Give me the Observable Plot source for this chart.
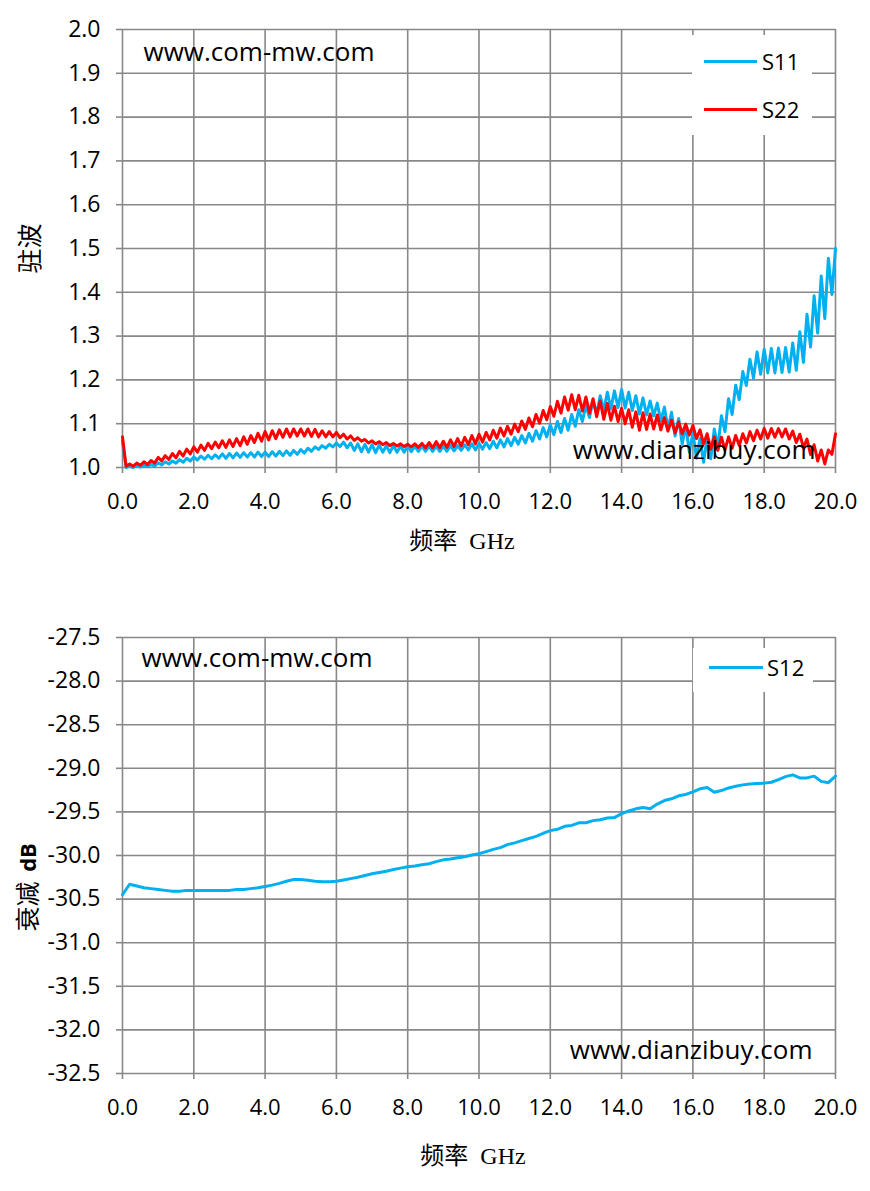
<!DOCTYPE html>
<html><head><meta charset="utf-8">
<script src="https://cdn.jsdelivr.net/npm/d3@7"></script>
<script src="https://cdn.jsdelivr.net/npm/@observablehq/plot@0.6"></script>
<style>
body{margin:0;background:#fff;}
#wrap{position:relative;width:870px;height:1191px;}
#wrap svg{display:block;}
.lg{position:absolute;background:#fff;font-family:'Open Sans',sans-serif;font-size:22px;color:#000;}
.lg .ln{position:absolute;height:3px;}
.lg .tx{position:absolute;line-height:30px;height:30px;}
</style></head>
<body><div id="wrap"></div>
<script>
// ---- data ----
const xTicks = [0, 2, 4, 6, 8, 10, 12, 14, 16, 18, 20];
const yTicksTop = [1.0, 1.1, 1.2, 1.3, 1.4, 1.5, 1.6, 1.7, 1.8, 1.9, 2.0];
const yTicksBottom = [-32.5, -32.0, -31.5, -31.0, -30.5, -30.0, -29.5, -29.0, -28.5, -28.0, -27.5];
const stepTop = 0.1;   // GHz between samples of S11 / S22
const stepBottom = 0.2; // GHz between samples of S12

const s11 = [1.060,1.000,1.003,1.000,1.004,1.001,1.005,1.002,1.007,1.003,
 1.011,1.006,1.013,1.008,1.015,1.010,1.018,1.012,1.021,1.015,
 1.024,1.017,1.026,1.019,1.028,1.020,1.029,1.021,1.031,1.021,
 1.032,1.022,1.033,1.023,1.034,1.024,1.034,1.024,1.035,1.025,
 1.035,1.025,1.036,1.026,1.037,1.027,1.038,1.028,1.039,1.030,
 1.041,1.033,1.044,1.037,1.047,1.041,1.050,1.044,1.053,1.047,
 1.056,1.048,1.058,1.045,1.056,1.039,1.054,1.036,1.053,1.035,
 1.052,1.034,1.051,1.035,1.050,1.034,1.050,1.035,1.049,1.035,
 1.050,1.036,1.049,1.037,1.049,1.037,1.049,1.037,1.049,1.037,
 1.049,1.037,1.050,1.038,1.050,1.039,1.052,1.040,1.054,1.040,
 1.055,1.042,1.057,1.043,1.060,1.045,1.063,1.047,1.066,1.050,
 1.069,1.053,1.073,1.056,1.078,1.060,1.084,1.065,1.091,1.070,
 1.097,1.075,1.105,1.080,1.112,1.085,1.121,1.094,1.132,1.105,
 1.142,1.114,1.154,1.122,1.164,1.130,1.172,1.134,1.175,1.137,
 1.178,1.136,1.172,1.130,1.164,1.122,1.159,1.120,1.152,1.118,
 1.147,1.106,1.138,1.088,1.126,1.072,1.112,1.053,1.096,1.035,
 1.080,1.021,1.066,1.012,1.070,1.020,1.088,1.046,1.118,1.082,
 1.157,1.121,1.188,1.155,1.219,1.187,1.247,1.204,1.264,1.213,
 1.270,1.216,1.272,1.216,1.273,1.217,1.274,1.218,1.284,1.222,
 1.310,1.240,1.350,1.275,1.392,1.307,1.437,1.340,1.478,1.395,
 1.500];

const s22 = [1.070,1.003,1.008,1.003,1.010,1.005,1.013,1.007,1.016,1.010,
 1.023,1.015,1.027,1.018,1.032,1.022,1.037,1.026,1.042,1.031,
 1.047,1.035,1.051,1.039,1.055,1.043,1.058,1.045,1.061,1.046,
 1.063,1.048,1.066,1.050,1.070,1.053,1.073,1.057,1.078,1.060,
 1.082,1.063,1.084,1.066,1.086,1.069,1.088,1.070,1.088,1.072,
 1.088,1.072,1.088,1.071,1.087,1.070,1.084,1.070,1.082,1.070,
 1.080,1.068,1.076,1.065,1.072,1.062,1.068,1.060,1.064,1.056,
 1.061,1.054,1.059,1.052,1.057,1.050,1.055,1.049,1.054,1.048,
 1.053,1.047,1.054,1.046,1.055,1.045,1.057,1.045,1.059,1.045,
 1.060,1.046,1.063,1.048,1.066,1.049,1.069,1.052,1.073,1.054,
 1.076,1.058,1.080,1.063,1.085,1.067,1.090,1.072,1.094,1.076,
 1.099,1.082,1.106,1.087,1.113,1.093,1.121,1.101,1.130,1.109,
 1.139,1.117,1.151,1.124,1.161,1.131,1.166,1.132,1.165,1.129,
 1.161,1.124,1.157,1.116,1.152,1.110,1.146,1.108,1.140,1.105,
 1.135,1.100,1.132,1.092,1.127,1.085,1.125,1.087,1.122,1.088,
 1.120,1.086,1.114,1.083,1.108,1.079,1.104,1.077,1.099,1.074,
 1.096,1.066,1.086,1.054,1.077,1.042,1.070,1.039,1.069,1.040,
 1.070,1.044,1.073,1.050,1.077,1.056,1.082,1.061,1.085,1.065,
 1.089,1.067,1.089,1.069,1.089,1.070,1.088,1.065,1.083,1.057,
 1.076,1.045,1.065,1.030,1.052,1.015,1.040,1.008,1.040,1.030,
 1.077];

const s12 = [-30.45,-30.33,-30.35,-30.37,-30.38,-30.39,-30.40,-30.41,-30.41,-30.40,
 -30.40,-30.40,-30.40,-30.40,-30.40,-30.40,-30.39,-30.39,-30.38,-30.37,
 -30.355,-30.34,-30.32,-30.295,-30.275,-30.275,-30.285,-30.295,-30.30,-30.30,
 -30.295,-30.28,-30.265,-30.25,-30.23,-30.21,-30.195,-30.18,-30.16,-30.145,
 -30.13,-30.12,-30.105,-30.095,-30.07,-30.05,-30.04,-30.025,-30.015,-29.995,
 -29.98,-29.955,-29.93,-29.91,-29.875,-29.855,-29.83,-29.805,-29.78,-29.745,
 -29.715,-29.70,-29.665,-29.655,-29.625,-29.625,-29.60,-29.59,-29.57,-29.565,
 -29.52,-29.49,-29.465,-29.45,-29.465,-29.41,-29.37,-29.35,-29.315,-29.30,
 -29.27,-29.235,-29.22,-29.275,-29.255,-29.225,-29.205,-29.19,-29.18,-29.175,
 -29.17,-29.16,-29.13,-29.095,-29.075,-29.11,-29.11,-29.09,-29.15,-29.165,
 -29.09];

// ---- build ----
const gridColor = "#888888";
const fmt = d => d.toFixed(1);
const rows = (arr, step) => arr.map((v, i) => ({f: +(i * step).toFixed(2), v}));
const r11 = rows(s11, stepTop), r22 = rows(s22, stepTop), r12 = rows(s12, stepBottom);

function frameMarks(yTicks) {
  return [
    Plot.gridX(xTicks, {stroke: gridColor, strokeOpacity: 1, strokeWidth: 1.6}),
    Plot.gridY(yTicks, {stroke: gridColor, strokeOpacity: 1, strokeWidth: 1.6}),
    Plot.axisX(xTicks, {tickSize: 6, tickPadding: 20, tickFormat: fmt, stroke: gridColor, strokeWidth: 1.6, fill: "#000", label: null, fontSize: 22}),
    Plot.axisY(yTicks, {tickSize: 6, tickPadding: 16, tickFormat: fmt, stroke: gridColor, strokeWidth: 1.6, fill: "#000", label: null, fontSize: 23})
  ];
}
const wm = (txt, o) => Plot.text([txt], {text: d => d, fontSize: 26, fontFamily: "'Open Sans',sans-serif", fill: "#000", lineAnchor: "middle", ...o});
const xTitle = "频率\u00A0\u00A0GHz";
const titleFont = "'Liberation Serif','Noto Sans CJK SC'";

const topChart = Plot.plot({
  width: 870, height: 595,
  marginLeft: 122, marginRight: 35, marginTop: 29, marginBottom: 128,
  style: {fontFamily: "'Open Sans',sans-serif", fontSize: "22px", color: "#000", background: "#fff", overflow: "visible"},
  x: {domain: [0, 20]},
  y: {domain: [1, 2]},
  marks: [
    ...frameMarks(yTicksTop),
    wm("www.com-mw.com", {frameAnchor: "top-left", textAnchor: "start", dx: 21, dy: 23}),
    Plot.line(r11, {x: "f", y: "v", stroke: "#00B0F0", strokeWidth: 3}),
    Plot.line(r22, {x: "f", y: "v", stroke: "#FF0000", strokeWidth: 3}),
    wm("www.dianzibuy.com", {frameAnchor: "bottom-right", textAnchor: "end", dx: -20, dy: -17}),
    Plot.text(["驻波"], {text: d => d, frameAnchor: "left", textAnchor: "middle", dx: -92, rotate: -90, fontSize: 25, fontFamily: "'Noto Sans CJK SC'", fill: "#000"}),
    Plot.text([xTitle], {text: d => d, frameAnchor: "bottom", textAnchor: "middle", dx: -17, dy: 81, fontSize: 24, fontFamily: titleFont, fill: "#000"})
  ]
});

const bottomChart = Plot.plot({
  width: 870, height: 596,
  marginLeft: 122, marginRight: 35, marginTop: 42, marginBottom: 118,
  style: {fontFamily: "'Open Sans',sans-serif", fontSize: "22px", color: "#000", background: "#fff", overflow: "visible"},
  x: {domain: [0, 20]},
  y: {domain: [-32.5, -27.5]},
  marks: [
    ...frameMarks(yTicksBottom),
    wm("www.com-mw.com", {frameAnchor: "top-left", textAnchor: "start", dx: 19, dy: 21}),
    Plot.line(r12, {x: "f", y: "v", stroke: "#00B0F0", strokeWidth: 3}),
    wm("www.dianzibuy.com", {frameAnchor: "bottom-right", textAnchor: "end", dx: -23, dy: -23}),
    Plot.text(["衰减"], {text: d => d, frameAnchor: "left", textAnchor: "middle", dx: -94, dy: 51, rotate: -90, fontSize: 25, fontFamily: "'Noto Sans CJK SC'", fill: "#000"}),
    Plot.text(["dB"], {text: d => d, frameAnchor: "left", textAnchor: "middle", dx: -94, dy: 2, rotate: -90, fontSize: 22, fontWeight: "bold", fontFamily: "'Open Sans',sans-serif", fill: "#000"}),
    Plot.text([xTitle], {text: d => d, frameAnchor: "bottom", textAnchor: "middle", dx: -6, dy: 90, fontSize: 24, fontFamily: titleFont, fill: "#000"})
  ]
});

const wrap = document.getElementById("wrap");
wrap.appendChild(topChart);
wrap.appendChild(bottomChart);

// legends (HTML overlays with white background, like the original boxes)
function legend(left, top, w, h, items) {
  const box = document.createElement("div");
  box.className = "lg";
  Object.assign(box.style, {left: left + "px", top: top + "px", width: w + "px", height: h + "px"});
  for (const it of items) {
    const ln = document.createElement("div");
    ln.className = "ln";
    Object.assign(ln.style, {left: it.lx + "px", top: (it.cy - 1.5) + "px", width: it.lw + "px", background: it.color});
    const tx = document.createElement("div");
    tx.className = "tx";
    tx.textContent = it.label;
    Object.assign(tx.style, {left: it.tx + "px", top: (it.cy - 15) + "px"});
    box.appendChild(ln); box.appendChild(tx);
  }
  wrap.appendChild(box);
}
legend(692, 35, 120, 100, [
  {label: "S11", color: "#00B0F0", lx: 12, lw: 53, tx: 70, cy: 26},
  {label: "S22", color: "#FF0000", lx: 12, lw: 53, tx: 70, cy: 74}
]);
legend(693, 648, 120, 44, [
  {label: "S12", color: "#00B0F0", lx: 16, lw: 54, tx: 74, cy: 19}
]);
</script>
</body></html>
